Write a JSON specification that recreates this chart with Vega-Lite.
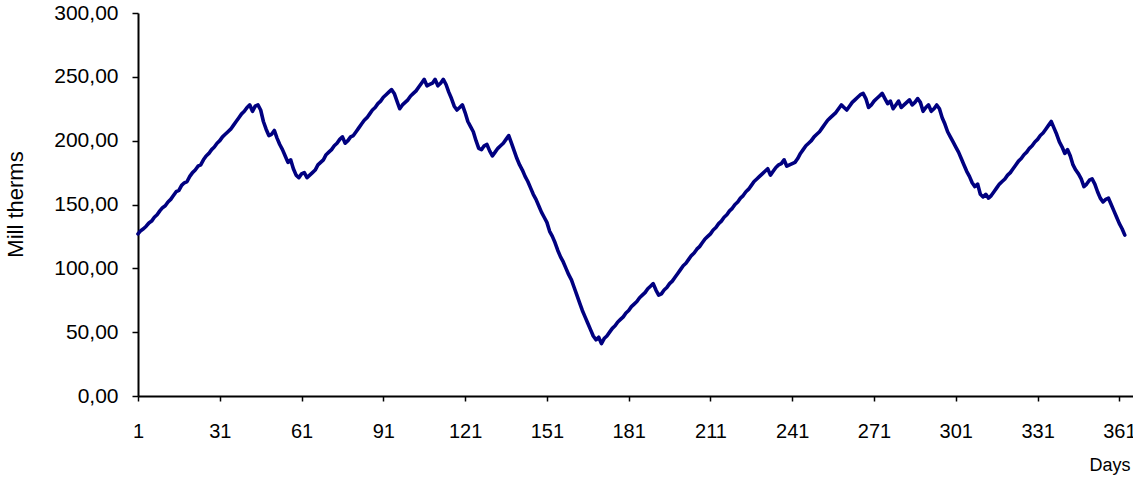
{
  "$schema": "https://vega.github.io/schema/vega-lite/v6.json",
  "width": 995,
  "height": 383,
  "autosize": {"type": "none"},
  "padding": {"left": 138, "top": 13, "right": 0, "bottom": 81},
  "background": "white",
  "config": {"view": {"stroke": null}, "font": "Liberation Sans"},
  "data": {"values": [
    {"d":1,"v":127},{"d":2,"v":129.5},{"d":3,"v":131},{"d":4,"v":133},{"d":5,"v":135.5},{"d":6,"v":137},{"d":7,"v":140},{"d":8,"v":142},{"d":9,"v":145},{"d":10,"v":147.5},
    {"d":11,"v":149},{"d":12,"v":152},{"d":13,"v":154},{"d":14,"v":157},{"d":15,"v":160},{"d":16,"v":161},{"d":17,"v":165},{"d":18,"v":167},{"d":19,"v":168},{"d":20,"v":172},
    {"d":21,"v":175},{"d":22,"v":177},{"d":23,"v":180},{"d":24,"v":181},{"d":25,"v":185},{"d":26,"v":188},{"d":27,"v":190},{"d":28,"v":193},{"d":29,"v":195},{"d":30,"v":198},
    {"d":31,"v":200},{"d":32,"v":203},{"d":33,"v":205},{"d":34,"v":207},{"d":35,"v":209},{"d":36,"v":212},{"d":37,"v":215},{"d":38,"v":218},{"d":39,"v":221},{"d":40,"v":223},
    {"d":41,"v":226},{"d":42,"v":228},{"d":43,"v":223},{"d":44,"v":227},{"d":45,"v":228},{"d":46,"v":224},{"d":47,"v":215},{"d":48,"v":209},{"d":49,"v":204},{"d":50,"v":205},
    {"d":51,"v":208},{"d":52,"v":202},{"d":53,"v":197},{"d":54,"v":193},{"d":55,"v":188},{"d":56,"v":183},{"d":57,"v":185},{"d":58,"v":178},{"d":59,"v":173},{"d":60,"v":171},
    {"d":61,"v":174},{"d":62,"v":175},{"d":63,"v":171},{"d":64,"v":173},{"d":65,"v":175},{"d":66,"v":177},{"d":67,"v":181},{"d":68,"v":183},{"d":69,"v":185},{"d":70,"v":189},
    {"d":71,"v":191},{"d":72,"v":193},{"d":73,"v":196},{"d":74,"v":198},{"d":75,"v":201},{"d":76,"v":203},{"d":77,"v":198},{"d":78,"v":200},{"d":79,"v":203},{"d":80,"v":204},
    {"d":81,"v":207},{"d":82,"v":210},{"d":83,"v":213},{"d":84,"v":216},{"d":85,"v":218},{"d":86,"v":221},{"d":87,"v":224},{"d":88,"v":226},{"d":89,"v":229},{"d":90,"v":231},
    {"d":91,"v":234},{"d":92,"v":236},{"d":93,"v":238},{"d":94,"v":240},{"d":95,"v":237},{"d":96,"v":231},{"d":97,"v":225},{"d":98,"v":228},{"d":99,"v":230},{"d":100,"v":232},
    {"d":101,"v":235},{"d":102,"v":237},{"d":103,"v":239},{"d":104,"v":242},{"d":105,"v":245},{"d":106,"v":248},{"d":107,"v":243},{"d":108,"v":244},{"d":109,"v":245},{"d":110,"v":248},
    {"d":111,"v":243},{"d":112,"v":245},{"d":113,"v":248},{"d":114,"v":244},{"d":115,"v":238},{"d":116,"v":233},{"d":117,"v":227},{"d":118,"v":224},{"d":119,"v":226},{"d":120,"v":228},
    {"d":121,"v":222},{"d":122,"v":215},{"d":123,"v":211},{"d":124,"v":207},{"d":125,"v":200},{"d":126,"v":194},{"d":127,"v":193},{"d":128,"v":196},{"d":129,"v":197},{"d":130,"v":192},
    {"d":131,"v":188},{"d":132,"v":191},{"d":133,"v":194},{"d":134,"v":196},{"d":135,"v":198},{"d":136,"v":201},{"d":137,"v":204},{"d":138,"v":198},{"d":139,"v":192},{"d":140,"v":186},
    {"d":141,"v":181},{"d":142,"v":177},{"d":143,"v":172},{"d":144,"v":168},{"d":145,"v":163},{"d":146,"v":158},{"d":147,"v":154},{"d":148,"v":149},{"d":149,"v":144},{"d":150,"v":140},
    {"d":151,"v":136},{"d":152,"v":129},{"d":153,"v":125},{"d":154,"v":120},{"d":155,"v":114},{"d":156,"v":109},{"d":157,"v":105},{"d":158,"v":100},{"d":159,"v":95},{"d":160,"v":91},
    {"d":161,"v":85},{"d":162,"v":79},{"d":163,"v":73},{"d":164,"v":67},{"d":165,"v":62},{"d":166,"v":57},{"d":167,"v":52},{"d":168,"v":47},{"d":169,"v":44},{"d":170,"v":46},
    {"d":171,"v":41},{"d":172,"v":45},{"d":173,"v":47},{"d":174,"v":50},{"d":175,"v":53},{"d":176,"v":55},{"d":177,"v":58},{"d":178,"v":60},{"d":179,"v":62},{"d":180,"v":65},
    {"d":181,"v":67},{"d":182,"v":70},{"d":183,"v":72},{"d":184,"v":74},{"d":185,"v":77},{"d":186,"v":79},{"d":187,"v":81},{"d":188,"v":84},{"d":189,"v":86},{"d":190,"v":88},
    {"d":191,"v":83},{"d":192,"v":79},{"d":193,"v":80},{"d":194,"v":83},{"d":195,"v":85},{"d":196,"v":88},{"d":197,"v":90},{"d":198,"v":93},{"d":199,"v":96},{"d":200,"v":99},
    {"d":201,"v":102},{"d":202,"v":104},{"d":203,"v":107},{"d":204,"v":110},{"d":205,"v":112},{"d":206,"v":115},{"d":207,"v":117},{"d":208,"v":120},{"d":209,"v":123},{"d":210,"v":125},
    {"d":211,"v":127},{"d":212,"v":130},{"d":213,"v":132},{"d":214,"v":135},{"d":215,"v":137},{"d":216,"v":140},{"d":217,"v":142},{"d":218,"v":145},{"d":219,"v":147},{"d":220,"v":150},
    {"d":221,"v":152},{"d":222,"v":155},{"d":223,"v":157},{"d":224,"v":160},{"d":225,"v":162},{"d":226,"v":165},{"d":227,"v":168},{"d":228,"v":170},{"d":229,"v":172},{"d":230,"v":174},
    {"d":231,"v":176},{"d":232,"v":178},{"d":233,"v":173},{"d":234,"v":176},{"d":235,"v":179},{"d":236,"v":181},{"d":237,"v":182},{"d":238,"v":185},{"d":239,"v":180},{"d":240,"v":181},
    {"d":241,"v":182},{"d":242,"v":183},{"d":243,"v":186},{"d":244,"v":190},{"d":245,"v":193},{"d":246,"v":196},{"d":247,"v":198},{"d":248,"v":200},{"d":249,"v":203},{"d":250,"v":205},
    {"d":251,"v":207},{"d":252,"v":210},{"d":253,"v":213},{"d":254,"v":216},{"d":255,"v":218},{"d":256,"v":220},{"d":257,"v":222},{"d":258,"v":225},{"d":259,"v":228},{"d":260,"v":226},
    {"d":261,"v":224},{"d":262,"v":227},{"d":263,"v":230},{"d":264,"v":232},{"d":265,"v":234},{"d":266,"v":236},{"d":267,"v":237},{"d":268,"v":233},{"d":269,"v":226},{"d":270,"v":228},
    {"d":271,"v":231},{"d":272,"v":233},{"d":273,"v":235},{"d":274,"v":237},{"d":275,"v":233},{"d":276,"v":229},{"d":277,"v":231},{"d":278,"v":225},{"d":279,"v":228},{"d":280,"v":231},
    {"d":281,"v":226},{"d":282,"v":228},{"d":283,"v":230},{"d":284,"v":232},{"d":285,"v":228},{"d":286,"v":230},{"d":287,"v":233},{"d":288,"v":230},{"d":289,"v":223},{"d":290,"v":226},
    {"d":291,"v":228},{"d":292,"v":223},{"d":293,"v":225},{"d":294,"v":228},{"d":295,"v":225},{"d":296,"v":218},{"d":297,"v":213},{"d":298,"v":207},{"d":299,"v":203},{"d":300,"v":199},
    {"d":301,"v":195},{"d":302,"v":191},{"d":303,"v":186},{"d":304,"v":181},{"d":305,"v":176},{"d":306,"v":172},{"d":307,"v":167},{"d":308,"v":164},{"d":309,"v":166},{"d":310,"v":158},
    {"d":311,"v":156},{"d":312,"v":158},{"d":313,"v":155},{"d":314,"v":157},{"d":315,"v":160},{"d":316,"v":163},{"d":317,"v":166},{"d":318,"v":168},{"d":319,"v":170},{"d":320,"v":173},
    {"d":321,"v":175},{"d":322,"v":178},{"d":323,"v":181},{"d":324,"v":184},{"d":325,"v":186},{"d":326,"v":189},{"d":327,"v":191},{"d":328,"v":194},{"d":329,"v":196},{"d":330,"v":199},
    {"d":331,"v":201},{"d":332,"v":204},{"d":333,"v":206},{"d":334,"v":209},{"d":335,"v":212},{"d":336,"v":215},{"d":337,"v":210},{"d":338,"v":205},{"d":339,"v":199},{"d":340,"v":195},
    {"d":341,"v":190},{"d":342,"v":193},{"d":343,"v":188},{"d":344,"v":181},{"d":345,"v":177},{"d":346,"v":174},{"d":347,"v":170},{"d":348,"v":164},{"d":349,"v":166},{"d":350,"v":169},
    {"d":351,"v":170},{"d":352,"v":166},{"d":353,"v":160},{"d":354,"v":155},{"d":355,"v":152},{"d":356,"v":154},{"d":357,"v":155},{"d":358,"v":150},{"d":359,"v":145},{"d":360,"v":140},
    {"d":361,"v":135},{"d":362,"v":131},{"d":363,"v":126}
  ]},
  "mark": {"type": "line", "color": "#000080", "strokeWidth": 3.6, "strokeJoin": "round", "strokeCap": "round", "clip": false},
  "encoding": {
    "x": {
      "field": "d", "type": "quantitative",
      "scale": {"domain": [1, 366], "nice": false, "zero": false},
      "axis": {
        "values": [1, 31, 61, 91, 121, 151, 181, 211, 241, 271, 301, 331, 361],
        "grid": false, "domainColor": "black", "domainWidth": 2, "tickColor": "black", "tickWidth": 1.5, "tickSize": 5,
        "labelFontSize": 20, "labelColor": "black", "labelPadding": 20, "labelFont": "Liberation Sans", "labelFlush": false, "labelOverlap": false,
        "title": "Days", "titleFontSize": 18, "titleFontWeight": "normal", "titleColor": "black", "titleFont": "Liberation Sans",
        "titleAnchor": "end", "titleAlign": "right", "titleX": 992, "titleY": 69, "titleBaseline": "middle"
      }
    },
    "y": {
      "field": "v", "type": "quantitative",
      "scale": {"domain": [0, 300], "nice": false},
      "axis": {
        "values": [0, 50, 100, 150, 200, 250, 300],
        "labelExpr": "replace(format(datum.value, '.2f'), '.', ',')",
        "grid": false, "domainColor": "black", "domainWidth": 2, "tickColor": "black", "tickWidth": 1.5, "tickSize": 6,
        "labelFontSize": 21, "labelColor": "black", "labelPadding": 14, "labelFont": "Liberation Sans",
        "title": "Mill therms", "titleFontSize": 22, "titleFontWeight": "normal", "titleColor": "black", "titleFont": "Liberation Sans",
        "titleAngle": -90, "titleX": -123, "titleY": 191, "titleAlign": "center", "titleBaseline": "middle"
      }
    }
  }
}
